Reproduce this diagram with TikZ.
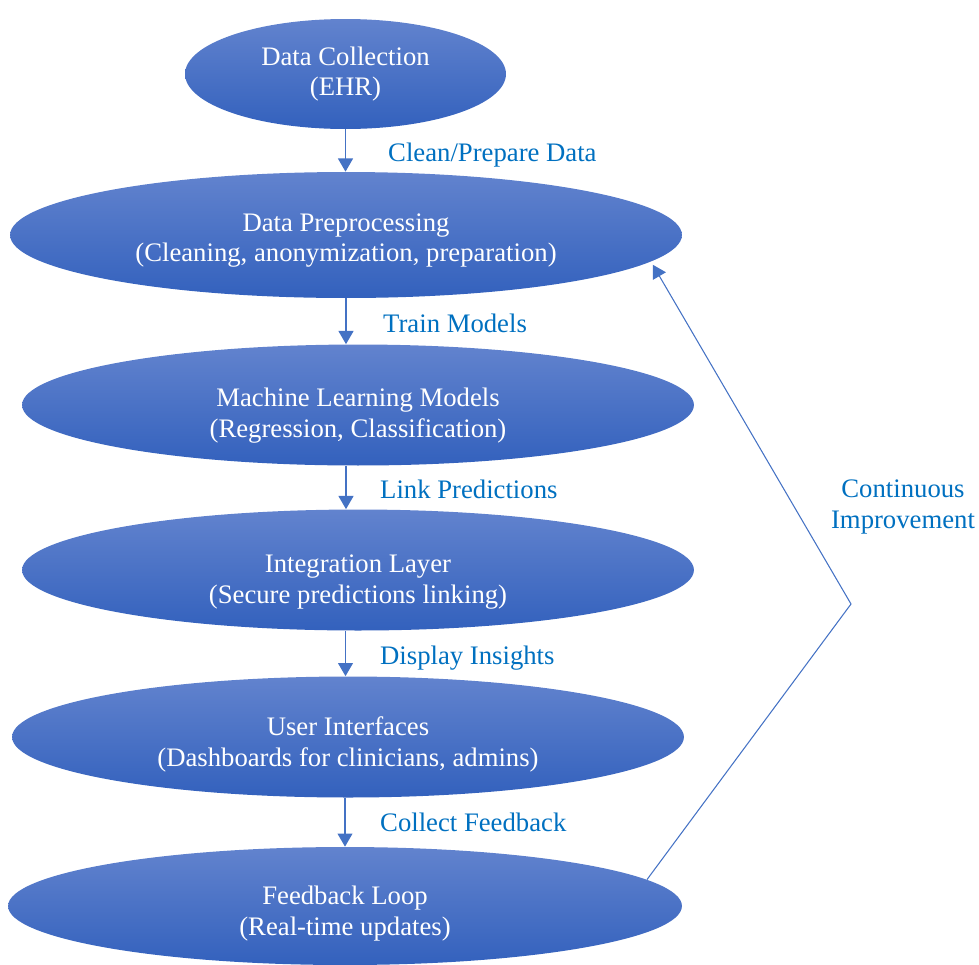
\documentclass[tikz,border=0pt]{standalone}
\usepackage{fontspec}
\setmainfont{Liberation Serif}
\usetikzlibrary{shapes.geometric, arrows.meta}
\definecolor{stagetop}{RGB}{98,131,206}
\definecolor{stagebot}{RGB}{51,97,189}
\definecolor{linkblue}{RGB}{68,114,196}
\definecolor{labelblue}{RGB}{0,112,192}
\tikzset{
	stage/.style={ellipse, inner sep=0pt, top color=stagetop, bottom color=stagebot, text=white, align=center, font=\fontsize{15.2}{17.5}\selectfont},
	textdrop/.style={execute at begin node={\rule{0pt}{#1}}},
	flow/.style={draw=linkblue, line width=0.75pt, -{Triangle[width=8.5pt,length=7.5pt]}},
	flowlabel/.style={text=labelblue, anchor=west, align=center, font=\fontsize{15.2}{17.5}\selectfont}
}

\begin{document}
\begin{tikzpicture}[x=0.02cm, y=-0.02cm]
			\useasboundingbox (0, 0) rectangle (979, 964);
			\node[stage, minimum width=6.42cm, minimum height=2.2cm] (collect) at (345.5, 74) {Data Collection\\(EHR)};
			\node[stage, textdrop=34pt, minimum width=13.44cm, minimum height=2.52cm] (prep) at (346, 235) {Data Preprocessing\\(Cleaning, anonymization, preparation)};
			\node[stage, textdrop=40.5pt, minimum width=13.44cm, minimum height=2.42cm] (models) at (358, 405) {Machine Learning Models\\(Regression, Classification)};
			\node[stage, textdrop=41.5pt, minimum width=13.44cm, minimum height=2.42cm] (integ) at (358, 570) {Integration Layer\\(Secure predictions linking)};
			\node[stage, textdrop=37pt, minimum width=13.44cm, minimum height=2.42cm] (ui) at (348, 737) {User Interfaces\\(Dashboards for clinicians, admins)};
			\node[stage, textdrop=37pt, minimum width=13.48cm, minimum height=2.36cm] (fb) at (345, 906) {Feedback Loop\\(Real-time updates)};
			\node[flowlabel] (lclean) at (382, 155.5) {Clean/Prepare Data};
			\node[flowlabel] (ltrain) at (377, 323) {Train Models};
			\node[flowlabel] (llink) at (374, 489) {Link Predictions};
			\node[flowlabel] (ldisplay) at (374, 658.5) {Display Insights};
			\node[flowlabel] (lcollect) at (374, 822) {Collect Feedback};
			\node[text=labelblue, align=center, font=\fontsize{15.2}{17.5}\selectfont] (lcont) at (903, 507) {Continuous\\Improvement};
			\coordinate (turn) at (851, 604);
			\draw[flow] (collect.south) -- (prep.north -| collect.south);
			\draw[flow] (prep.south) -- (models.north -| prep.south);
			\draw[flow] (models.south -| prep.south) -- (integ.north -| prep.south);
			\draw[flow] (integ.south -| collect.south) -- (ui.north -| collect.south);
			\draw[flow] (ui.south -| fb.south) -- (fb.north);
			\draw[flow, line width=0.6pt, shorten >=0.07cm] (fb.5) -- (turn) -- (prep.-5.6);
		\end{tikzpicture}
\end{document}
